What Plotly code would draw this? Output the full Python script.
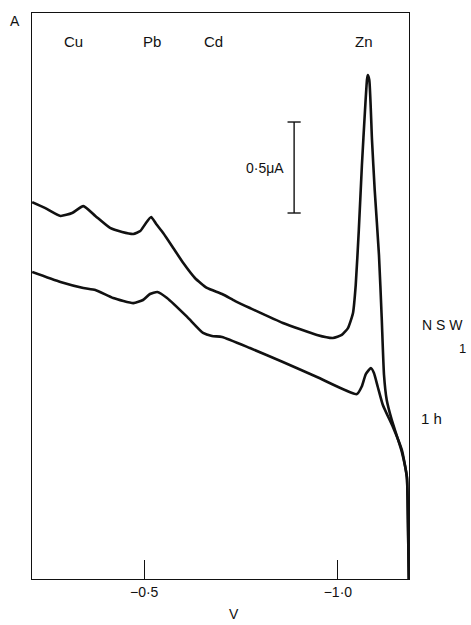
import plotly.graph_objects as go

# Stripping voltammograms: potential (V) vs. current (μA, arbitrary offset)
nsw_potential = [-0.211, -0.245, -0.284, -0.314, -0.343, -0.374, -0.412, -0.443, -0.472,
                 -0.490, -0.503, -0.518, -0.531, -0.549, -0.575, -0.601, -0.631, -0.662,
                 -0.701, -0.735, -0.773, -0.858, -0.946, -0.987, -1.010, -1.026, -1.039,
                 -1.046, -1.054, -1.062, -1.070, -1.075, -1.077, -1.081, -1.088, -1.095,
                 -1.106, -1.113, -1.119, -1.126, -1.139, -1.165, -1.178, -1.180, -1.183]
nsw_current = [2.071, 2.038, 1.995, 2.011, 2.049, 1.995, 1.929, 1.907, 1.896,
               1.912, 1.951, 1.989, 1.951, 1.901, 1.819, 1.736, 1.654, 1.599,
               1.566, 1.527, 1.489, 1.407, 1.341, 1.324, 1.341, 1.379, 1.462,
               1.615, 1.918, 2.275, 2.577, 2.742, 2.769, 2.742, 2.412, 2.137,
               1.780, 1.440, 1.121, 0.984, 0.874, 0.698, 0.560, 0.434, 0.0]

h1_potential = [-0.211, -0.284, -0.343, -0.374, -0.420, -0.472, -0.497, -0.515, -0.534,
                -0.559, -0.611, -0.652, -0.675, -0.701, -0.773, -0.858, -0.946, -1.049,
                -1.062, -1.072, -1.085, -1.093, -1.103, -1.116, -1.142, -1.165, -1.178,
                -1.180, -1.183]
h1_current = [1.687, 1.632, 1.599, 1.588, 1.544, 1.516, 1.533, 1.566, 1.577,
              1.544, 1.440, 1.352, 1.335, 1.330, 1.269, 1.192, 1.110, 1.016,
              1.060, 1.126, 1.159, 1.132, 1.055, 0.956, 0.835, 0.709, 0.560,
              0.434, 0.0]

metal_names = ["Cu", "Pb", "Cd", "Zn"]
metal_potentials = [-0.317, -0.521, -0.678, -1.067]
metal_label_level = 2.956

tick_values = [-0.5, -1.0]
tick_labels = ["−0·5", "−1·0"]

scale_bar_potential = -0.887
scale_bar_range = [2.011, 2.511]   # 0.5 μA

x_range = [-0.2105, -1.1835]
y_range = [0.0, 3.11]

FONT = "Liberation Sans, Arial, sans-serif"
INK = "#111111"

fig = go.Figure()

for xs, ys in ((nsw_potential, nsw_current), (h1_potential, h1_current)):
    fig.add_trace(go.Scatter(
        x=xs, y=ys, mode="lines",
        line=dict(color=INK, width=2.6, shape="spline", smoothing=0.5),
        showlegend=False, hoverinfo="skip",
    ))

# 0.5 μA scale bar
cap = 0.017
fig.add_shape(type="line", xref="x", yref="y",
              x0=scale_bar_potential, x1=scale_bar_potential,
              y0=scale_bar_range[0], y1=scale_bar_range[1],
              line=dict(color=INK, width=1.4))
for yv in scale_bar_range:
    fig.add_shape(type="line", xref="x", yref="y",
                  x0=scale_bar_potential - cap, x1=scale_bar_potential + cap,
                  y0=yv, y1=yv, line=dict(color=INK, width=1.4))
fig.add_annotation(x=scale_bar_potential, y=sum(scale_bar_range) / 2,
                   xref="x", yref="y", text="0·5μA", showarrow=False,
                   xanchor="right", yanchor="middle", xshift=-8,
                   font=dict(family=FONT, size=14, color=INK))

# Metal peak labels
for name, pot in zip(metal_names, metal_potentials):
    fig.add_annotation(x=pot, y=metal_label_level, xref="x", yref="y",
                       text=name, showarrow=False,
                       xanchor="center", yanchor="middle",
                       font=dict(family=FONT, size=15, color=INK))

# Curve labels and axis captions (paper units relative to the plot area)
side_labels = [
    ("N S W", 1.090, 0.449, 14),
    ("1", 1.143, 0.408, 13),
    ("1 h", 1.061, 0.284, 15),
    ("A", -0.046, 0.985, 14),
    ("V", 0.536, -0.062, 14),
]
for text, px, py, size in side_labels:
    fig.add_annotation(x=px, y=py, xref="paper", yref="paper",
                       text=text, showarrow=False,
                       xanchor="center", yanchor="middle",
                       font=dict(family=FONT, size=size, color=INK))

fig.update_layout(
    width=471, height=625,
    margin=dict(l=32, r=62, t=13, b=46),
    paper_bgcolor="white", plot_bgcolor="white",
    xaxis=dict(range=x_range, showgrid=False, zeroline=False,
               showline=True, mirror=True, linecolor=INK, linewidth=1.2,
               tickmode="array", tickvals=tick_values, ticktext=tick_labels,
               ticks="inside", ticklen=19, tickwidth=1.2, tickcolor=INK,
               tickfont=dict(family=FONT, size=14, color=INK)),
    yaxis=dict(range=y_range, showgrid=False, zeroline=False,
               showline=True, mirror=True, linecolor=INK, linewidth=1.2,
               showticklabels=False, ticks=""),
)

fig.write_html("out.html")
